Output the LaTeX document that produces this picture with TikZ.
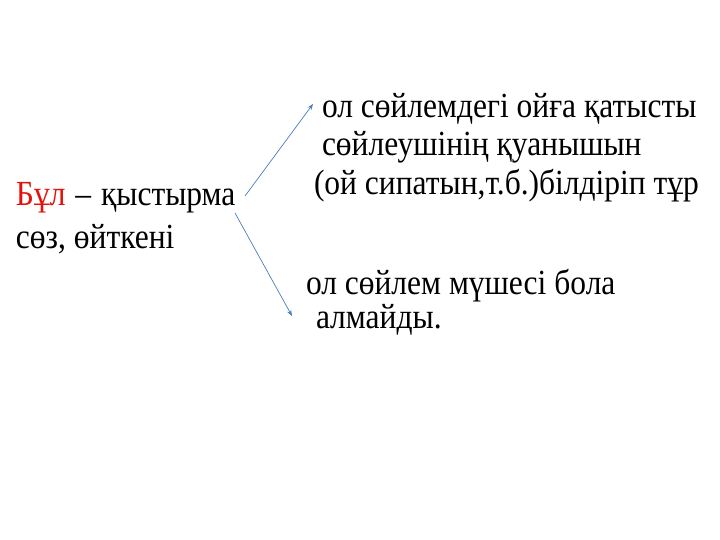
\documentclass[tikz,border=0pt]{standalone}
\usepackage{fontspec}
\setmainfont{Liberation Serif}
\newfontfamily\kzserif{Liberation Serif}
\usetikzlibrary{arrows.meta}
\definecolor{arrowblue}{HTML}{4A7EBB}
\definecolor{redword}{HTML}{E3120B}
\tikzset{
  txt/.style={anchor=base west, inner sep=0pt, outer sep=0pt, font=\kzserif\fontsize{31.5}{36}\selectfont, yscale=1.12},
  conn/.style={draw=arrowblue, line width=0.7pt, -{Stealth[length=6pt,width=4.5pt]}}
}
\begin{document}
\begin{tikzpicture}[x=1pt,y=-1pt]
\useasboundingbox (0,0) rectangle (720,540);
\node[txt] (l1) at (16,206) {\textcolor{redword}{Бұл} \kern2pt–\kern2pt{} қыстырма};
\node[txt] (l2) at (16,248) {сөз, өйткені};
\node[txt] (r1) at (322,118) {ол сөйлемдегі ойға қатысты};
\node[txt] (r2) at (322,156) {сөйлеушінің қуанышын};
\node[txt] (r3) at (314,195) {(ой сипатын,т.б.)білдіріп тұр};
\node[txt] (r4) at (306,294) {ол сөйлем мүшесі бола};
\node[txt] (r5) at (316,328) {алмайды.};
\coordinate (a1s) at (245,196);
\coordinate (a1e) at (313,104);
\coordinate (a2s) at (235,213);
\coordinate (a2e) at (292,316);
\draw[conn] (a1s) -- (a1e);
\draw[conn] (a2s) -- (a2e);
\end{tikzpicture}
\end{document}
